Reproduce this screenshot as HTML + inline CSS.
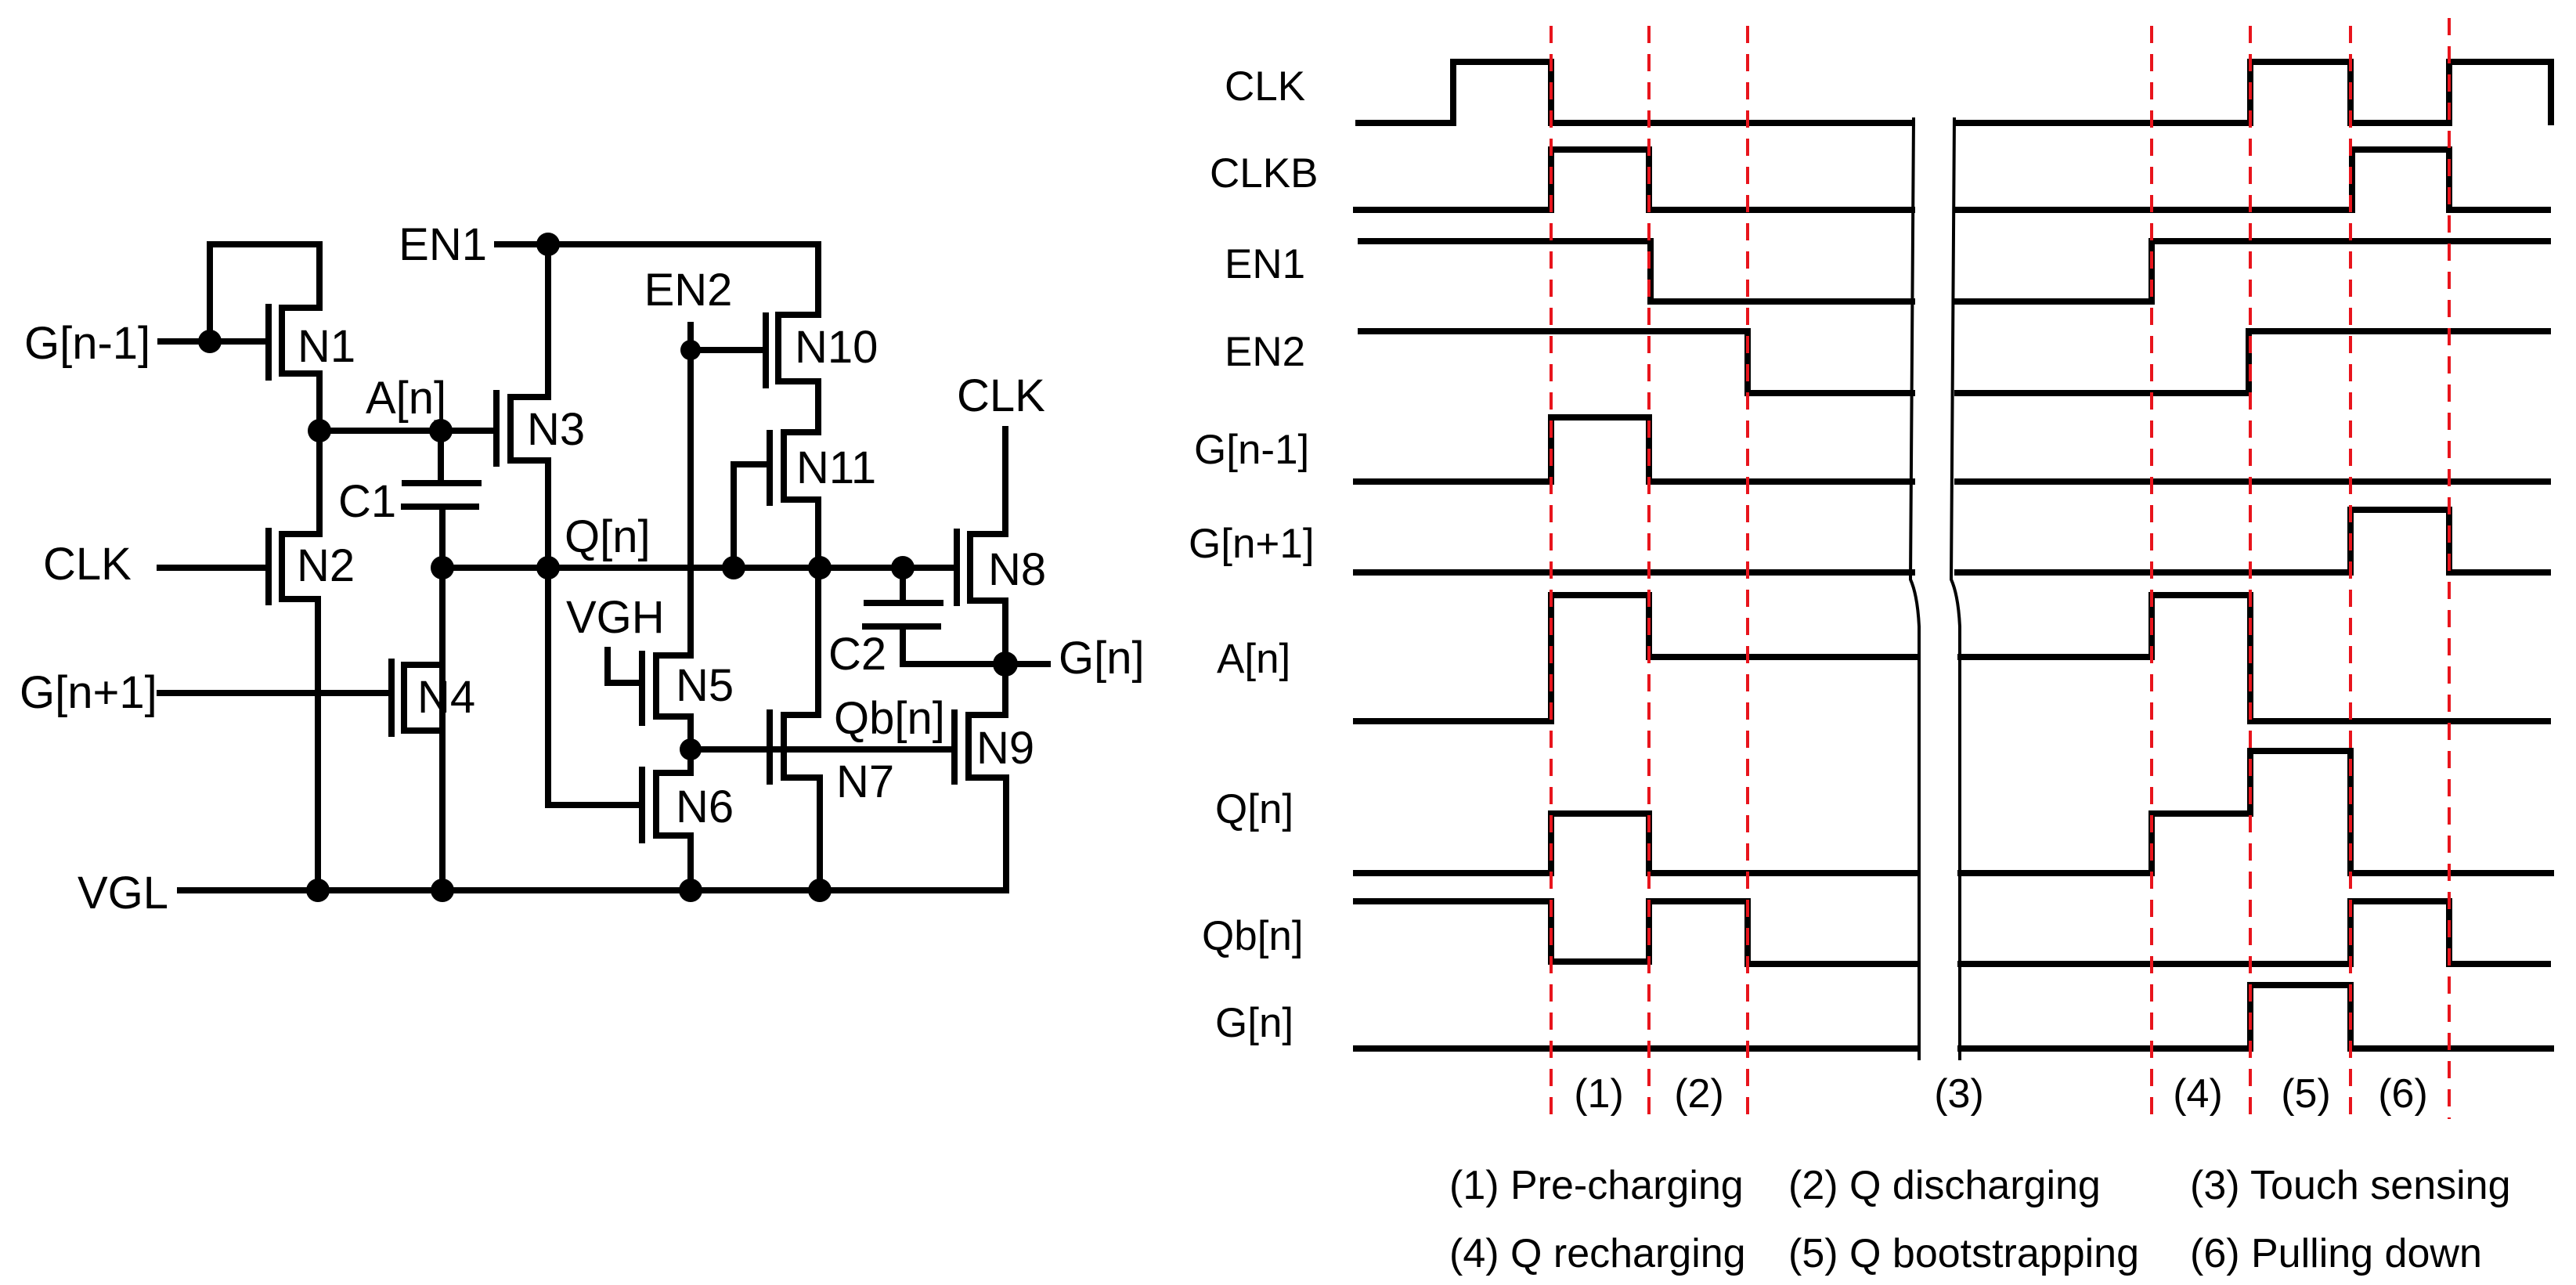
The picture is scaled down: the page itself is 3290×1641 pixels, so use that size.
<!DOCTYPE html>
<html><head><meta charset="utf-8"><style>
html,body{margin:0;padding:0;background:#fff;}
svg{display:block;}
text{font-family:"Liberation Sans",Arial,sans-serif;fill:#000;}
</style></head><body>
<svg width="3290" height="1641" viewBox="0 0 3290 1641" xmlns="http://www.w3.org/2000/svg">
<rect width="3290" height="1641" fill="#fff"/>
<g fill="none" stroke="#000" stroke-width="8" stroke-linecap="square" stroke-linejoin="miter">
<!-- N1 -->
<path d="M205,436 H343"/>
<path d="M268,436 V312 H408 V393 H360 V477 H408 V550"/>
<path d="M343,392 V482"/>
<!-- A line -->
<path d="M408,550 H634"/>
<!-- N2 -->
<path d="M408,550 V682 H360 V765 H406 V1137"/>
<path d="M343,678 V769"/>
<path d="M204,725 H343"/>
<!-- C1 -->
<path d="M563,550 V617"/>
<path d="M517,617 H611"/>
<path d="M516,647 H608"/>
<path d="M565,647 V1137"/>
<!-- Q line -->
<path d="M565,725 H1219"/>
<!-- N4 -->
<path d="M565,849 H516 V933 H565"/>
<path d="M500,845 V937"/>
<path d="M204,885 H500"/>
<!-- VGL -->
<path d="M230,1137 H1285"/>
<!-- EN1 & N3 -->
<path d="M635,312 H1045 V402 H994 V487 H1045 V552 H1001 V638 H1045 V913 H1001 V993 H1047 V1137"/>
<path d="M700,312 V507 H652 V588 H700 V1028 H820"/>
<path d="M634,502 V592"/>
<!-- EN2 / N10 / N11 gates -->
<path d="M882,415 V837 H838 V915 H882 V987 H838 V1067 H882 V1137"/>
<path d="M882,447 H978"/>
<path d="M978,403 V492"/>
<path d="M983,553 V642"/>
<path d="M983,593 H937 V725"/>
<!-- N5 gate VGH -->
<path d="M820,835 V923"/>
<path d="M820,872 H776 V830"/>
<!-- N6 gate -->
<path d="M820,983 V1073"/>
<!-- Qb line and N7 -->
<path d="M882,957 H1219"/>
<path d="M983,910 V998"/>
<!-- C2 -->
<path d="M1153,725 V770"/>
<path d="M1107,770 H1201"/>
<path d="M1105,800 H1198"/>
<path d="M1153,800 V848 H1338"/>
<!-- N8 / N9 -->
<path d="M1284,548 V682 H1239 V767 H1284 V913 H1237 V993 H1285 V1137"/>
<path d="M1222,679 V770"/>
<path d="M1219,910 V998"/>
</g>
<g fill="#000">
<circle cx="268" cy="436" r="15"/>
<circle cx="408" cy="550" r="15"/>
<circle cx="563" cy="550" r="15"/>
<circle cx="700" cy="312" r="15"/>
<circle cx="565" cy="725" r="15"/>
<circle cx="700" cy="725" r="15"/>
<circle cx="937" cy="725" r="15"/>
<circle cx="1047" cy="725" r="15"/>
<circle cx="1153" cy="725" r="15"/>
<circle cx="882" cy="447" r="13"/>
<circle cx="882" cy="957" r="14"/>
<circle cx="1284" cy="848" r="16"/>
<circle cx="406" cy="1137" r="15"/>
<circle cx="565" cy="1137" r="15"/>
<circle cx="882" cy="1137" r="15"/>
<circle cx="1047" cy="1137" r="15"/>
</g>
<g font-size="58">
<text x="31" y="458">G[n-1]</text>
<text x="380" y="462">N1</text>
<text x="467" y="528">A[n]</text>
<text x="622" y="332" text-anchor="end">EN1</text>
<text x="673" y="568">N3</text>
<text x="879" y="390" text-anchor="middle">EN2</text>
<text x="1015" y="463">N10</text>
<text x="1017" y="617">N11</text>
<text x="1222" y="525">CLK</text>
<text x="1262" y="747">N8</text>
<text x="432" y="660">C1</text>
<text x="55" y="740">CLK</text>
<text x="379" y="742">N2</text>
<text x="721" y="705">Q[n]</text>
<text x="723" y="808">VGH</text>
<text x="863" y="895">N5</text>
<text x="863" y="1050">N6</text>
<text x="1058" y="855">C2</text>
<text x="1352" y="860">G[n]</text>
<text x="1065" y="937">Qb[n]</text>
<text x="1068" y="1018">N7</text>
<text x="1247" y="975">N9</text>
<text x="25" y="904">G[n+1]</text>
<text x="533" y="910">N4</text>
<text x="99" y="1160">VGL</text>
</g>
<!-- Timing -->
<g fill="none" stroke="#000" stroke-width="8">
<path d="M1731,157 H1856 V79 H1981 V157 H2446"/>
<path d="M2496,157 H2874 V79 H3002 V157 H3128 V79 H3258 V160"/>
<path d="M1728,268 H1981 V191 H2106 V268 H2446"/>
<path d="M2496,268 H3004 V191 H3128 V268 H3258"/>
<path d="M1734,308 H2108 V385 H2446"/>
<path d="M2496,385 H2748 V308 H3258"/>
<path d="M1734,423 H2232 V502 H2446"/>
<path d="M2496,502 H2872 V423 H3258"/>
<path d="M1728,615 H1981 V533 H2106 V615 H2446"/>
<path d="M2496,615 H3258"/>
<path d="M1728,731 H2446"/>
<path d="M2496,731 H3002 V651 H3128 V731 H3258"/>
<path d="M1728,921 H1981 V760 H2106 V839 H2450"/>
<path d="M2500,839 H2748 V760 H2874 V921 H3258"/>
<path d="M1728,1115 H1981 V1039 H2106 V1115 H2450"/>
<path d="M2500,1115 H2748 V1039 H2874 V959 H3002 V1115 H3262"/>
<path d="M1728,1151 H1981 V1228 H2106 V1151 H2232 V1231 H2450"/>
<path d="M2500,1231 H3002 V1151 H3128 V1231 H3258"/>
<path d="M1728,1339 H2450"/>
<path d="M2500,1339 H2874 V1258 H3002 V1339 H3262"/>
</g>
<g fill="none" stroke="#000" stroke-width="4">
<path d="M2444,150 L2440,740 Q2449,760 2451,800 L2451,1354"/>
<path d="M2496,150 L2492,740 Q2501,760 2503,800 L2503,1354"/>
</g>
<g stroke="#e8141c" stroke-width="4" stroke-dasharray="22,14" fill="none">
<path d="M1981,33 V1429"/>
<path d="M2106,33 V1429"/>
<path d="M2232,33 V1429"/>
<path d="M2748,33 V1429"/>
<path d="M2874,33 V1429"/>
<path d="M3002,33 V1429"/>
<path d="M3128,23 V1429"/>
</g>
<g font-size="53">
<text x="1564" y="128">CLK</text>
<text x="1545" y="239">CLKB</text>
<text x="1564" y="355">EN1</text>
<text x="1564" y="467">EN2</text>
<text x="1525" y="592">G[n-1]</text>
<text x="1518" y="712">G[n+1]</text>
<text x="1554" y="859">A[n]</text>
<text x="1552" y="1051">Q[n]</text>
<text x="1535" y="1213">Qb[n]</text>
<text x="1552" y="1324">G[n]</text>
</g>
<g font-size="52" text-anchor="middle">
<text x="2042" y="1414">(1)</text>
<text x="2170" y="1414">(2)</text>
<text x="2502" y="1414">(3)</text>
<text x="2807" y="1414">(4)</text>
<text x="2945" y="1414">(5)</text>
<text x="3069" y="1414">(6)</text>
</g>
<g font-size="52">
<text x="1851" y="1531">(1) Pre-charging</text>
<text x="2284" y="1531">(2) Q discharging</text>
<text x="2797" y="1531">(3) Touch sensing</text>
<text x="1851" y="1618">(4) Q recharging</text>
<text x="2284" y="1618">(5) Q bootstrapping</text>
<text x="2797" y="1618">(6) Pulling down</text>
</g>
</svg>
</body></html>
